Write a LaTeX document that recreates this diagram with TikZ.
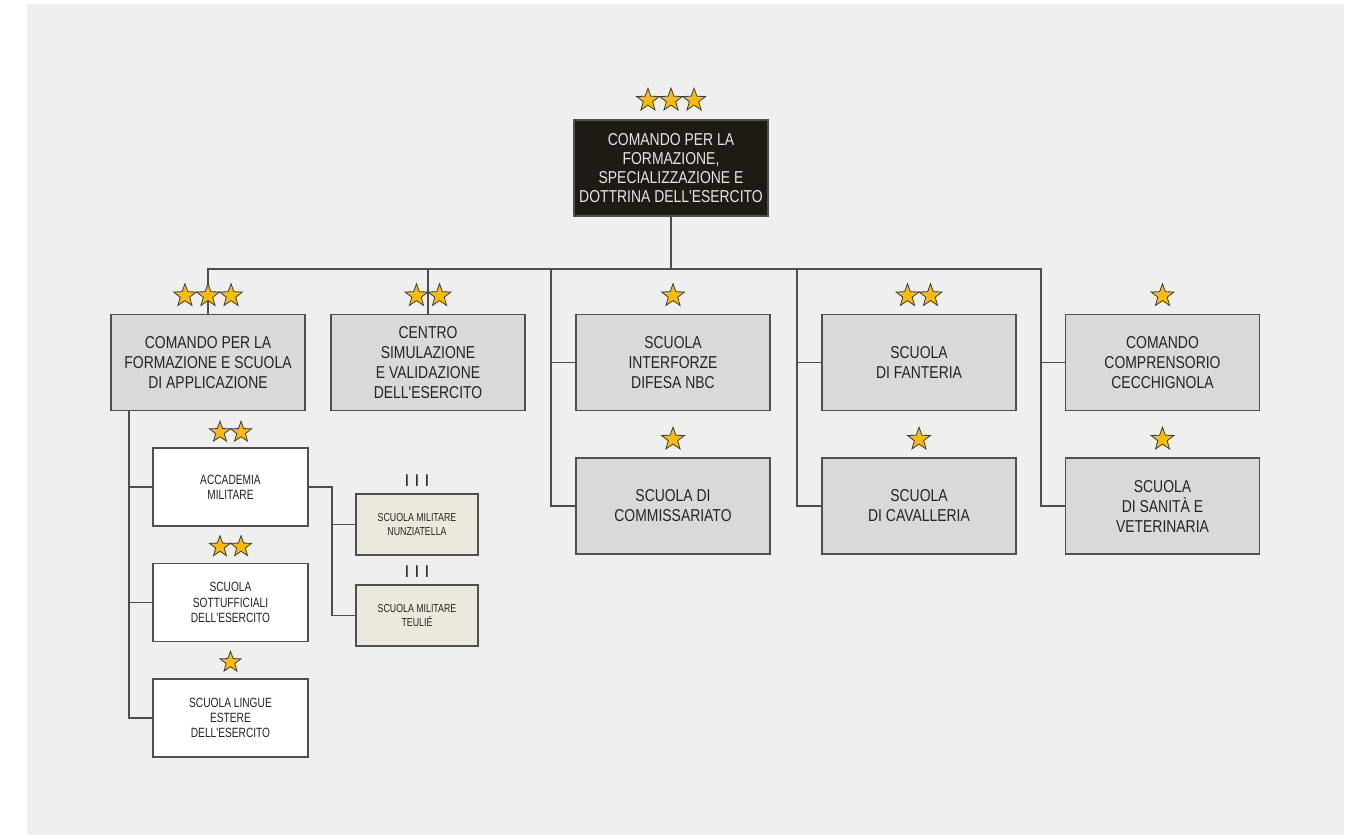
\documentclass[tikz,border=0pt]{standalone}
\usepackage{fontspec}
\setmainfont{Liberation Sans}
\newfontfamily\narrowfont[FakeStretch=0.81]{Liberation Sans}
\newfontfamily\tightfont[FakeStretch=0.76]{Liberation Sans}
\usetikzlibrary{shapes.geometric,calc}

\definecolor{panelgray}{HTML}{EFEFEF}
\definecolor{boxgray}{HTML}{D9D9D9}
\definecolor{boxline}{HTML}{4F4F4F}
\definecolor{linegray}{HTML}{4D4D4D}
\definecolor{textgray}{HTML}{242424}
\definecolor{cmdfill}{HTML}{1E1A14}
\definecolor{cmdtext}{HTML}{E6E6E6}
\definecolor{beige}{HTML}{ECE9DC}
\definecolor{stargold}{HTML}{F8BC0E}
\definecolor{starline}{HTML}{3A3A3A}

\tikzset{
  unitbox/.style={draw=boxline, line width=0.8pt, fill=boxgray, text=textgray,
    align=center, minimum width=97pt, minimum height=48pt, inner sep=1pt,
    font=\narrowfont\fontsize{8.6}{10}\selectfont},
  cmdbox/.style={unitbox, fill=cmdfill, text=cmdtext,
    font=\narrowfont\fontsize{8.6}{9.6}\selectfont},
  schoolbox/.style={unitbox, fill=white, minimum width=77.5pt, minimum height=39pt,
    font=\tightfont\fontsize{6.7}{7.6}\selectfont},
  minibox/.style={unitbox, fill=beige, minimum width=61pt, minimum height=30.5pt,
    font=\tightfont\fontsize{5.8}{6.6}\selectfont},
  grade/.style={text=textgray, inner sep=0pt, font=\fontsize{8.5}{9}\selectfont},
  rank/.style={star, star points=5, star point ratio=2.45, inner sep=0pt,
    fill=stargold, draw=starline, line width=0.4pt},
  link/.style={draw=linegray, line width=0.9pt},
}

% #1 node, #2 number of stars, #3 height above the box, #4 star size (pt)
\newcommand{\ranks}[4]{%
  \foreach \k in {1,...,#2}{%
    \pgfmathsetmacro\dx{(\k-(#2+1)/2)*0.96*#4}
    \node[rank, minimum size=#4pt] (#1-s\k) at ([xshift=\dx pt, yshift=#3]#1.north) {};
  }}

\begin{document}
\begin{tikzpicture}[x=0.5pt, y=-0.5pt]
  \useasboundingbox (0,0) rectangle (1354,837);
  \fill[panelgray] (27,4) rectangle (1344,835);

  % top command
  \node[cmdbox] (top) at (671,168) {COMANDO PER LA\\FORMAZIONE,\\SPECIALIZZAZIONE E\\DOTTRINA DELL'ESERCITO};

  % first row
  \node[unitbox] (cfsa) at (208,362.5) {COMANDO PER LA\\FORMAZIONE E SCUOLA\\DI APPLICAZIONE};
  \node[unitbox] (csve) at (428,362.5) {CENTRO\\SIMULAZIONE\\E VALIDAZIONE\\DELL'ESERCITO};
  \node[unitbox] (nbc) at (673,362.5) {SCUOLA\\INTERFORZE\\DIFESA NBC};
  \node[unitbox] (fant) at (919,362.5) {SCUOLA\\DI FANTERIA};
  \node[unitbox] (cecc) at (1162.5,362.5) {COMANDO\\COMPRENSORIO\\CECCHIGNOLA};

  % second row
  \node[unitbox] (comm) at (673,506) {SCUOLA DI\\COMMISSARIATO};
  \node[unitbox] (cav) at (919,506) {SCUOLA\\DI CAVALLERIA};
  \node[unitbox] (sanv) at (1162.5,506) {SCUOLA\\DI SANIT\`A E\\VETERINARIA};

  % schools under cfsa
  \node[schoolbox] (accad) at (230.5,487) {ACCADEMIA\\MILITARE};
  \node[schoolbox] (sott) at (230.5,602.5) {SCUOLA\\SOTTUFFICIALI\\DELL'ESERCITO};
  \node[schoolbox] (lingue) at (230.5,718) {SCUOLA LINGUE\\ESTERE\\DELL'ESERCITO};
  \node[minibox] (nunz) at (417,524.5) {SCUOLA MILITARE\\NUNZIATELLA};
  \node[minibox] (teulie) at (417,615.5) {SCUOLA MILITARE\\TEULI\'E};
  \node[grade] (nunz-g) at ([yshift=6.5pt]nunz.north) {I\hspace{2.6pt}I\hspace{2.6pt}I};
  \node[grade] (teulie-g) at ([yshift=6.5pt]teulie.north) {I\hspace{2.6pt}I\hspace{2.6pt}I};

  % connectors
  \coordinate (bus) at (673,269);
  \coordinate (t1) at (551,269);
  \coordinate (t2) at (797,269);
  \coordinate (t3) at (1041,269);
  \coordinate (t0) at (129,410);
  \coordinate (t4) at (332,487);
  \draw[link] (top.south) -- (top.south |- bus);
  \draw[link] (cfsa.north) |- (t3) |- (sanv.west);
  \draw[link] (csve.north) -- (csve.north |- bus);
  \draw[link] (t1) |- (comm.west);
  \draw[link] (t1 |- nbc.west) -- (nbc.west);
  \draw[link] (t2) |- (cav.west);
  \draw[link] (t2 |- fant.west) -- (fant.west);
  \draw[link] (t3 |- cecc.west) -- (cecc.west);
  \draw[link] (t0) |- (lingue.west);
  \draw[link] (t0 |- accad.west) -- (accad.west);
  \draw[link] (t0 |- sott.west) -- (sott.west);
  \draw[link] (accad.east) -- (t4) |- (teulie.west);
  \draw[link] (t4 |- nunz.west) -- (nunz.west);

  % stars
  \ranks{top}{3}{9.5pt}{12}
  \ranks{cfsa}{3}{9pt}{12}
  \ranks{csve}{2}{9pt}{12}
  \ranks{nbc}{1}{9pt}{12}
  \ranks{fant}{2}{9pt}{12}
  \ranks{cecc}{1}{9pt}{12}
  \ranks{comm}{1}{9pt}{12}
  \ranks{cav}{1}{9pt}{12}
  \ranks{sanv}{1}{9pt}{12}
  \ranks{accad}{2}{7.5pt}{11}
  \ranks{sott}{2}{8pt}{11}
  \ranks{lingue}{1}{8pt}{11}
\end{tikzpicture}
\end{document}
